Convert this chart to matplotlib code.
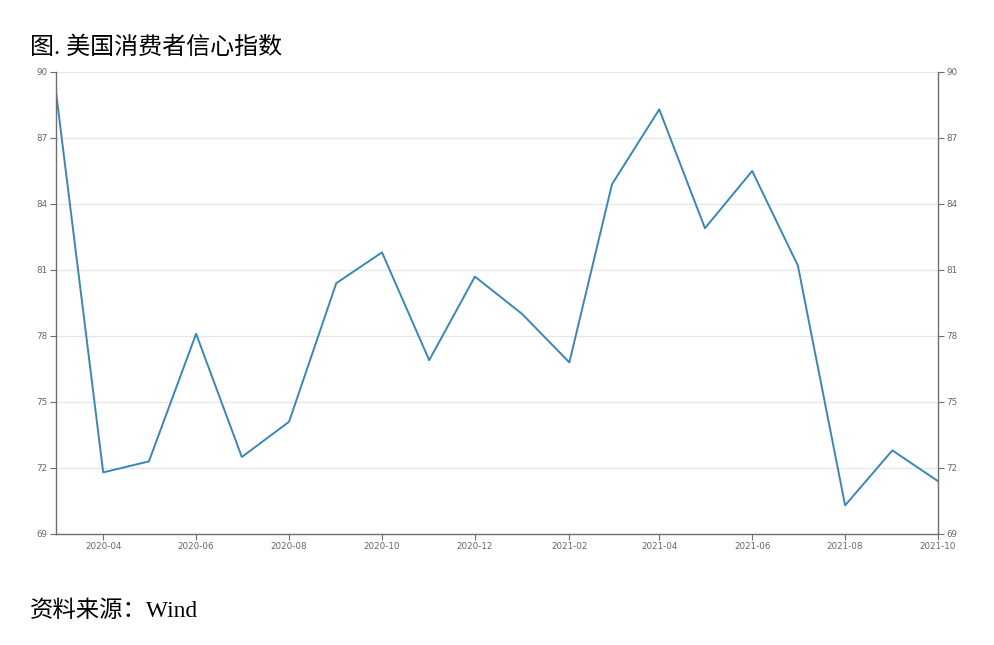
import matplotlib
matplotlib.use("Agg")
import matplotlib.pyplot as plt
import matplotlib.dates as mdates
import numpy as np
import pandas as pd

months = pd.date_range("2020-03-01", "2021-10-01", freq="MS")
sentiment = [89.1, 71.8, 72.3, 78.1, 72.5, 74.1, 80.4, 81.8, 76.9, 80.7,
             79.0, 76.8, 84.9, 88.3, 82.9, 85.5, 81.2, 70.3, 72.8, 71.4]
y_ticks = [69, 72, 75, 78, 81, 84, 87, 90]

title = "图. 美国消费者信心指数"
source = "资料来源：Wind"

text_fonts = ["Liberation Serif", "Noto Sans CJK SC", "DejaVu Sans"]
tick_color = "#666666"

fig = plt.figure(figsize=(9.94, 6.45), dpi=100)
ax = fig.add_axes([0.0563, 0.1721, 0.8874, 0.7163])

ax.plot(months, sentiment, color="#3a87b2", linewidth=1.4)

ax.set_xlim(months[0], months[-1])
ax.set_ylim(69, 90)
ax.set_yticks(y_ticks)
ax.grid(axis="y", color="#e6e6e6", linewidth=0.9)
ax.set_axisbelow(True)

ax.xaxis.set_major_locator(mdates.MonthLocator(bymonth=[2, 4, 6, 8, 10, 12]))
ax.xaxis.set_major_formatter(mdates.DateFormatter("%Y-%m"))

ax.spines["top"].set_visible(False)
for s in ["left", "right", "bottom"]:
    ax.spines[s].set_color("#6e6e6e")
    ax.spines[s].set_linewidth(1.0)

ax.tick_params(axis="both", labelsize=6.3, colors="#6e6e6e", labelcolor=tick_color,
               length=4, width=0.8, pad=2)
ax.tick_params(axis="y", right=True, labelright=True)

fig.text(0.030, 0.926, title, family=text_fonts, fontsize=17.3, va="center", ha="left")
fig.text(0.030, 0.053, source, family=text_fonts, fontsize=16.8, va="center", ha="left")

fig.savefig("out.png", dpi=100)
